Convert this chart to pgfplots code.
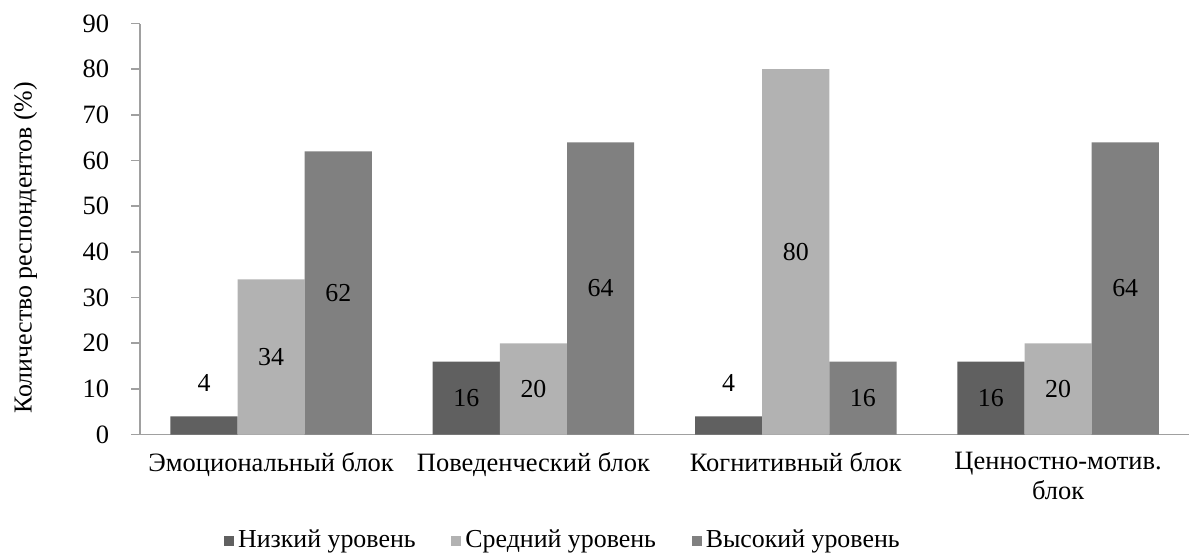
\documentclass[border={2.5pt 0pt 2.5pt 3pt}]{standalone}
\usepackage{fontspec}
\setmainfont{Liberation Serif}
\usepackage{pgfplots}
\pgfplotsset{compat=1.18}
\definecolor{cLow}{HTML}{606060}
\definecolor{cMid}{HTML}{B2B2B2}
\definecolor{cHigh}{HTML}{808080}
\definecolor{axgray}{HTML}{A0A0A0}
\begin{document}
\fontsize{13}{15.6}\selectfont
\begin{tikzpicture}
\begin{axis}[
  scale only axis, width=527pt, height=206.5pt,
  xmin=-0.5, xmax=3.5, ymin=0, ymax=90,
  ytick={0,10,...,90},
  xtick={0,1,2,3},
  xticklabels={Эмоциональный блок, Поведенческий блок, Когнитивный блок, {Ценностно-мотив.\\блок}},
  xticklabel style={align=center, font=\fontsize{13.3}{15}\selectfont},
  yticklabel style={font=\fontsize{13.3}{14}\selectfont},
  /pgf/number format/assume math mode=true,
  axis x line=bottom, axis y line=left,
  axis line style={axgray, line width=0.8pt, -},
  x tick style={draw=none},
  y tick style={axgray, line width=0.8pt},
  tick align=outside, major tick length=4.5pt,
  yticklabel style={xshift=-6.5pt},
  ylabel={Количество респондентов (\%)},
  ylabel style={font=\fontsize{13}{14}\selectfont, yshift=14pt, xshift=-9.5pt},
  ybar, bar width=0.256,
  nodes near coords,
  visualization depends on=rawy\as\rawy,
  every node near coord/.append style={anchor=center, font=\fontsize{13}{14}\selectfont, text=black,
    shift={(axis direction cs:0,{\rawy<8 ? 7.3 : -\rawy/2})}},
  legend style={draw=none, at={(0.404,-0.258)}, anchor=center, legend columns=3,
    font=\fontsize{13}{14}\selectfont,
    /tikz/every even column/.append style={column sep=16pt}},
  legend image code/.code={\fill[#1] (0pt,-2.5pt) rectangle (5pt,2.5pt);},
]
\addplot[fill=cLow, draw=none, bar shift=-0.256] coordinates {(0,4) (1,16) (2,4) (3,16)};
\addplot[fill=cMid, draw=none, bar shift=0] coordinates {(0,34) (1,20) (2,80) (3,20)};
\addplot[fill=cHigh, draw=none, bar shift=0.256] coordinates {(0,62) (1,64) (2,16) (3,64)};
\legend{Низкий уровень, Средний уровень, Высокий уровень}
\end{axis}
\end{tikzpicture}
\end{document}
